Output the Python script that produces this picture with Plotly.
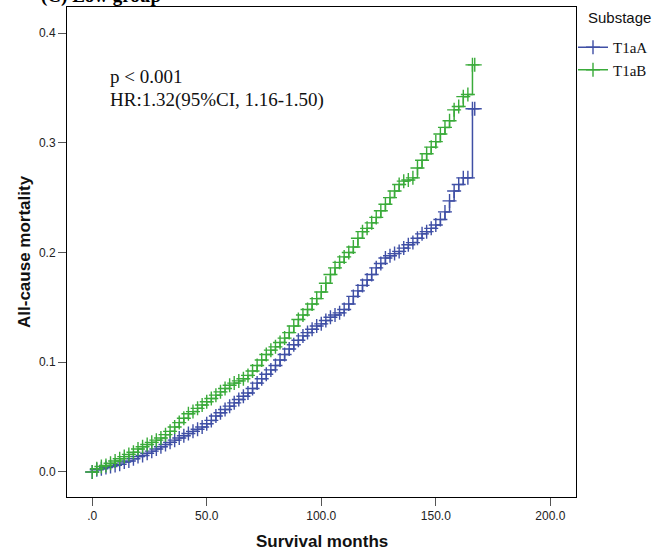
import plotly.graph_objects as go

# Survival months (censoring/step points) and cumulative all-cause mortality
months_b = [0, 2, 4, 6, 8, 10, 12, 14, 16, 18, 20, 22, 24, 26, 28, 30, 32, 34, 36, 38, 40,
            42, 44, 46, 48, 50, 52, 54, 56, 58, 60, 62, 64, 66, 68, 70, 72, 74, 76, 78, 80,
            82, 84, 86, 88, 90, 92, 94, 96, 98, 100, 102, 104, 106, 108, 110, 112, 114, 116,
            118, 120, 122, 124, 126, 128, 130, 132, 134, 136, 138, 140, 142, 144, 146, 148,
            150, 152, 154, 156, 158, 160, 162, 164, 166, 167]
mort_T1aB = [0.000, 0.003, 0.005, 0.006, 0.008, 0.010, 0.012, 0.014, 0.016, 0.018, 0.021,
             0.023, 0.025, 0.027, 0.029, 0.031, 0.034, 0.037, 0.041, 0.045, 0.049, 0.053,
             0.055, 0.058, 0.061, 0.064, 0.067, 0.070, 0.073, 0.076, 0.079, 0.081, 0.083,
             0.085, 0.088, 0.092, 0.097, 0.102, 0.107, 0.111, 0.114, 0.118, 0.122, 0.127,
             0.133, 0.139, 0.143, 0.148, 0.153, 0.158, 0.164, 0.172, 0.180, 0.186, 0.191,
             0.196, 0.200, 0.205, 0.213, 0.219, 0.222, 0.227, 0.232, 0.238, 0.244, 0.250,
             0.256, 0.262, 0.265, 0.266, 0.268, 0.277, 0.284, 0.290, 0.296, 0.301, 0.308,
             0.314, 0.320, 0.330, 0.333, 0.342, 0.344, 0.371, 0.371]

months_a = months_b
mort_T1aA = [0.000, 0.002, 0.003, 0.004, 0.005, 0.006, 0.007, 0.009, 0.010, 0.012, 0.014,
             0.015, 0.017, 0.019, 0.021, 0.023, 0.025, 0.027, 0.029, 0.031, 0.033, 0.035,
             0.037, 0.039, 0.041, 0.044, 0.047, 0.051, 0.054, 0.057, 0.060, 0.063, 0.066,
             0.069, 0.072, 0.076, 0.081, 0.085, 0.089, 0.093, 0.097, 0.102, 0.107, 0.112,
             0.116, 0.120, 0.124, 0.127, 0.130, 0.133, 0.135, 0.138, 0.141, 0.143, 0.145,
             0.148, 0.153, 0.160, 0.165, 0.170, 0.175, 0.180, 0.186, 0.190, 0.195, 0.197,
             0.199, 0.201, 0.204, 0.207, 0.209, 0.213, 0.217, 0.219, 0.222, 0.225, 0.230,
             0.237, 0.247, 0.256, 0.262, 0.268, 0.268, 0.331, 0.331]

x_ticks = [0, 50, 100, 150, 200]
x_ticktext = [".0", "50.0", "100.0", "150.0", "200.0"]
y_ticks = [0.0, 0.1, 0.2, 0.3, 0.4]

blue = "#3f4fa5"
green = "#3aab3a"

W, H = 659, 556
ML, MR, MT, MB = 67, 0, 7, 59
PW, PH = W - ML - MR, H - MT - MB
plot_right_px = 576
dom_end = (plot_right_px - ML) / PW

fig = go.Figure()
for name, xs, ys, col in [("T1aA", months_a, mort_T1aA, blue),
                          ("T1aB", months_b, mort_T1aB, green)]:
    fig.add_trace(go.Scatter(
        x=xs, y=ys, name=name, mode="lines+markers", line_shape="hv",
        line=dict(color=col, width=1.5),
        marker=dict(symbol="cross-thin", size=10, line=dict(color=col, width=1.4)),
    ))

fig.add_annotation(x=0, xref="paper", y=1, yref="paper", xshift=-28, yshift=11,
                   text="<b>(C) Low group</b>", showarrow=False, xanchor="left",
                   yanchor="middle", font=dict(family="Liberation Serif", size=19, color="black"))
fig.add_annotation(x=7, y=0.360, text="p < 0.001", showarrow=False, xanchor="left",
                   yanchor="middle", font=dict(family="Liberation Serif", size=19, color="#111"))
fig.add_annotation(x=7, y=0.339, text="HR:1.32(95%CI, 1.16-1.50)", showarrow=False,
                   xanchor="left", yanchor="middle",
                   font=dict(family="Liberation Serif", size=19, color="#111"))
# axis titles
fig.add_annotation(x=dom_end / 2, xref="paper", y=0, yref="paper", yshift=-44,
                   text="<b>Survival months</b>", showarrow=False, xanchor="center",
                   yanchor="middle", font=dict(family="Liberation Sans", size=17, color="#111"))
fig.add_annotation(x=0, xref="paper", y=0.5, yref="paper", xshift=-43,
                   text="<b>All-cause mortality</b>", showarrow=False, textangle=-90,
                   xanchor="center", yanchor="middle",
                   font=dict(family="Liberation Sans", size=17, color="#111"))
# legend title
fig.add_annotation(x=(586 - ML) / PW, xref="paper", y=1 - (17 - MT) / PH, yref="paper",
                   text="Substage", showarrow=False, xanchor="left", yanchor="middle",
                   font=dict(family="Liberation Sans", size=15, color="#111"))

fig.update_layout(
    width=W, height=H,
    margin=dict(l=ML, r=MR, t=MT, b=MB),
    plot_bgcolor="white", paper_bgcolor="white",
    showlegend=True,
    legend=dict(x=(573 - ML) / PW, y=1 - (31 - MT) / PH,
                xanchor="left", yanchor="top", borderwidth=0,
                font=dict(family="Liberation Serif", size=15, color="#111"),
                tracegroupgap=0, itemwidth=30, bgcolor="rgba(0,0,0,0)"),
    xaxis=dict(domain=[0, dom_end], range=[-11, 211.2], tickvals=x_ticks, ticktext=x_ticktext,
               ticks="outside", ticklen=8, tickcolor="#555", showgrid=False, zeroline=False,
               showline=True, mirror=True, linecolor="black", linewidth=1, automargin=False,
               tickfont=dict(family="Liberation Sans", size=12, color="#222")),
    yaxis=dict(range=[-0.0228, 0.4237], tickvals=y_ticks, tickformat=".1f",
               ticks="outside", ticklen=8, tickcolor="#555", showgrid=False, zeroline=False,
               showline=True, mirror=True, linecolor="black", linewidth=1, automargin=False,
               tickfont=dict(family="Liberation Sans", size=12, color="#222")),
)

fig.write_html("out.html")
